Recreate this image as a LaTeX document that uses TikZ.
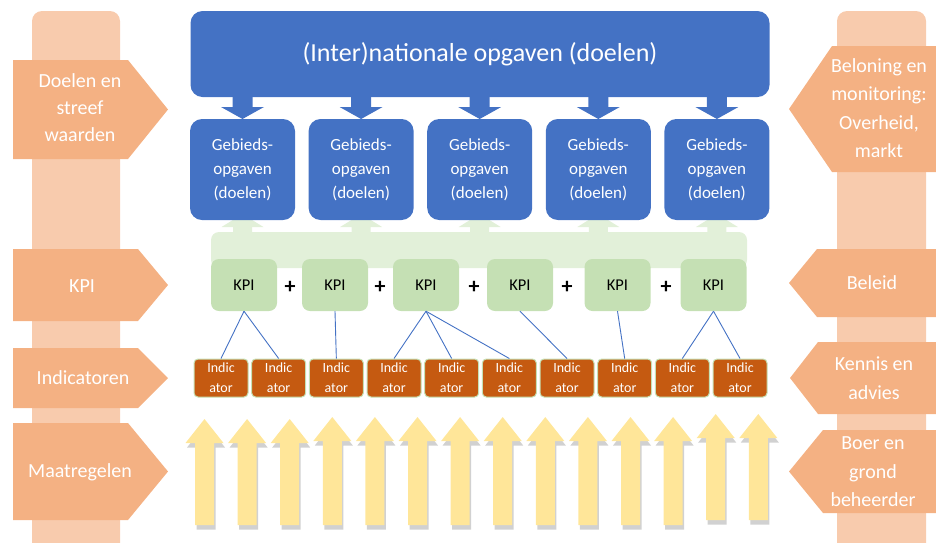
\documentclass[tikz,border=0pt]{standalone}
\usepackage{fontspec}
\setmainfont{Carlito}
\usetikzlibrary{positioning, shadows}
\definecolor{blauw}{HTML}{4472C4}
\definecolor{balkkleur}{HTML}{F8CBAD}
\definecolor{pijlkleur}{HTML}{F4B183}
\definecolor{kpigroen}{HTML}{C5E0B4}
\definecolor{bandgroen}{HTML}{E2F0D9}
\definecolor{oranje}{HTML}{C55A11}
\definecolor{geel}{HTML}{FFE699}
% block arrow: x, tip y, head base y, end y, head half, shaft half, style
\newcommand{\blokpijl}[7]{\fill[#7] ({#1},{#2}) -- ({#1+#5},{#3}) -- ({#1+#6},{#3}) -- ({#1+#6},{#4}) -- ({#1-#6},{#4}) -- ({#1-#6},{#3}) -- ({#1-#5},{#3}) -- cycle;}
% side arrow: x back, x body, y top, x tip, y bottom
\newcommand{\zijpijl}[5]{\fill[pijlkleur] (#1,#3) -- (#2,#3) -- (#4,{(#3+#5)/2}) -- (#2,#5) -- (#1,#5) -- cycle;}

\begin{document}
\begin{tikzpicture}[x=1pt, y=-1pt,
  balk/.style={fill=balkkleur, rounded corners=10pt},
  zijtekst/.style={text=white, align=center, inner sep=0pt, font=\fontsize{20}{27}\selectfont},
  opgave/.style={rounded corners=12pt, fill=blauw, text=white, align=center, minimum width=579pt, minimum height=86pt, font=\fontsize{26}{31}\selectfont},
  gebied/.style={rounded corners=12pt, fill=blauw, text=white, align=center, minimum width=105pt, minimum height=101pt, font=\fontsize{17}{24}\selectfont},
  kpi/.style={rounded corners=8pt, fill=kpigroen, minimum width=66pt, minimum height=52pt, font=\fontsize{16.5}{19}\selectfont},
  plus/.style={font=\fontsize{22}{24}\selectfont\bfseries},
  indic/.style={rounded corners=4pt, fill=oranje, draw=kpigroen, line width=1pt, text=white, align=center, inner sep=0pt, minimum width=54pt, minimum height=38pt, font=\fontsize{14}{20}\selectfont},
  koppel/.style={draw=blauw, line width=0.9pt},
  maatregel/.style={fill=geel, drop shadow={shadow xshift=1.5pt, shadow yshift=-4.5pt, opacity=0.3, fill=black!60}}]
  \useasboundingbox (0,0) rectangle (936,542);

  % side bars
  \fill[balk] (32,11) rectangle (120,560);
  \fill[balk] (837,11) rectangle (926,560);

  % side arrows left
  \zijpijl{13}{128}{60}{168}{159}
  \zijpijl{13}{138}{249}{168}{321}
  \zijpijl{13}{138}{348}{168}{408}
  \zijpijl{13}{128}{423}{168}{520}
  \node[zijtekst] (doelen) at (80,108) {Doelen en\\streef\\waarden};
  \node[zijtekst] (kpilabel) at (82,286) {KPI};
  \node[zijtekst] (indicatoren) at (83,378) {Indicatoren};
  \node[zijtekst] (maatregelen) at (80,472) {Maatregelen};

  % side arrows right
  \zijpijl{945}{832}{46}{789}{172}
  \zijpijl{945}{817}{249}{789}{317}
  \zijpijl{945}{818}{342}{790}{414}
  \zijpijl{945}{823}{430}{789}{513}
  \node[zijtekst, font=\fontsize{20}{28.5}\selectfont] (beloning) at (879,108) {Beloning en\\monitoring:\\Overheid,\\markt};
  \node[zijtekst] (beleid) at (872,283) {Beleid};
  \node[zijtekst, font=\fontsize{20}{29}\selectfont] (kennis) at (874,378) {Kennis en\\advies};
  \node[zijtekst, font=\fontsize{20}{28.5}\selectfont] (boer) at (873,472) {Boer en\\grond\\beheerder};

  % top goal and area goals
  \node[opgave] (nationaal) at (480,54) {(Inter)nationale opgaven (doelen)};
  \foreach \i in {1,...,5}{
    \blokpijl{242.5+118.6*(\i-1)}{119}{107}{95}{21.5}{10}{blauw}}
  \fill[bandgroen, rounded corners=8pt] (211,232) rectangle (747,268);
  \foreach \i in {1,...,5}{
    \blokpijl{242.5+118.6*(\i-1)}{214}{227}{236}{21}{9.5}{bandgroen}}
  \foreach \i in {1,...,5}
    \node[gebied] (g\i) at ({242.5+118.6*(\i-1)},169.5) {Gebieds-\\opgaven\\(doelen)};

  % KPI row
  \foreach \x [count=\i] in {244,335,426,520,617.5,713.5}
    \node[kpi] (k\i) at (\x,285) {KPI};
  \foreach \x [count=\i] in {290,380,474,567,666}
    \node[plus] (p\i) at (\x,287) {+};

  % indicators
  \foreach \i in {1,...,10}
    \node[indic] (i\i) at ({221+57.67*(\i-1)},378) {Indic\\ator};

  % edges
  \draw[koppel] (k1.south) -- (i1.north);
  \draw[koppel] (k1.south) -- (i2.north);
  \draw[koppel] (k2.south) -- (i3.north);
  \draw[koppel] (k3.south) -- (i4.north);
  \draw[koppel] (k3.south) -- (i5.north);
  \draw[koppel] (k3.south) -- (i6.north);
  \draw[koppel] (k4.south) -- (i7.north);
  \draw[koppel] (k5.south) -- (i8.north);
  \draw[koppel] (k6.south) -- (i9.north);
  \draw[koppel] (k6.south) -- (i10.north);

  % measures
  \foreach \i/\t/\b in {0/419/525,1/419/525,2/419/525,3/417/525,4/417/525,5/417/525,6/417/525,
                        7/417/525,8/417/525,9/417/525,10/417/525,11/417/525,12/414/520,13/414/520}{
    \blokpijl{204.5+42.6*\i}{\t}{\t+24}{\b}{19}{9.5}{maatregel}}
\end{tikzpicture}
\end{document}
